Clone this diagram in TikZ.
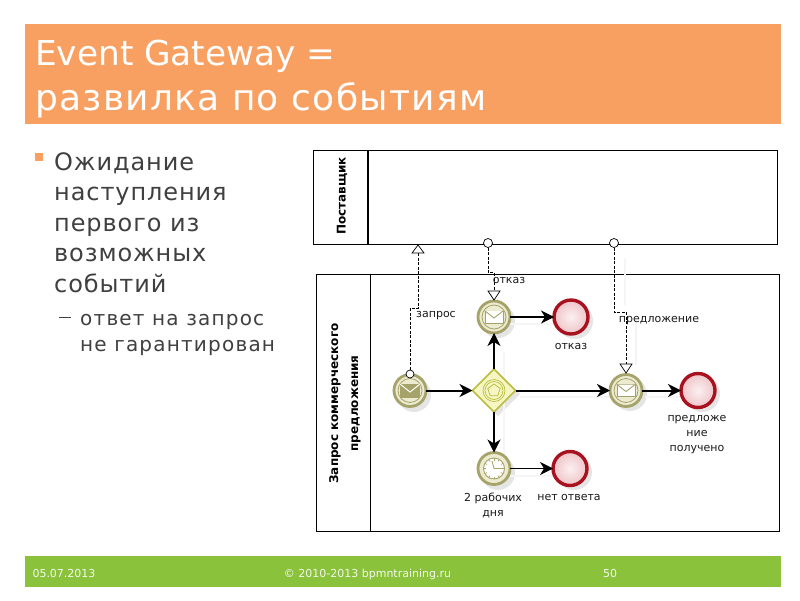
\documentclass[tikz,border=0pt]{standalone}
\usepackage{fontspec}
\setmainfont{DejaVu Sans}
\usetikzlibrary{arrows.meta,calc,shapes.geometric}
\definecolor{hdr}{HTML}{F8A062}
\definecolor{ftr}{HTML}{8AC23C}
\definecolor{txt}{HTML}{404040}
\definecolor{oli}{HTML}{A6A36A}
\definecolor{olil}{HTML}{ECEBD0}
\definecolor{gwb}{HTML}{B9BE3C}
\definecolor{gwf}{HTML}{F6F6C4}
\definecolor{endb}{HTML}{A8121E}
\definecolor{endf}{HTML}{EFC4C8}
\tikzset{
 x=1pt,y=-1pt,
 title/.style={anchor=base west,text=white,inner sep=0pt},
 body/.style={anchor=base west,text=txt,inner sep=0pt},
 foot/.style={anchor=base,text=white,font=\fontsize{11}{11}\selectfont,inner sep=0pt,opacity=.9},
 pool/.style={draw=black,line width=.9pt,fill=white},
 evt/.style={circle,draw=oli,line width=2.8pt,fill=olil,minimum size=32pt,inner sep=0pt,outer sep=0pt},
 endev/.style={circle,draw=endb,line width=3.4pt,shading=radial,inner color=white!75!endf,outer color=endf,minimum size=34pt,inner sep=0pt,outer sep=0pt},
 gw/.style={diamond,draw=gwb,line width=1.6pt,fill=gwf,minimum size=43pt,inner sep=0pt,outer sep=0pt},
 flow/.style={draw=black,line width=2pt,-{Stealth[length=13pt,width=13pt,inset=4pt]}},
 flowt/.style={draw=black,line width=1.2pt,-{Stealth[length=13pt,width=13pt,inset=4pt]}},
 msgf/.style={draw=black,line width=.9pt,dash pattern=on 3pt off 1.5pt},
 mcirc/.style={circle,draw=black,fill=white,line width=.7pt,inner sep=0pt},
 mhead/.style={draw=black,line width=.7pt,fill=white},
 lbl/.style={text=black!90,font=\fontsize{11}{15}\selectfont,align=center,inner sep=0pt},
 plbl/.style={rotate=90,font=\bfseries\fontsize{12}{20}\selectfont,inner sep=0pt,align=center},
 shad/.style={fill=black,opacity=.10},
 pics/env/.style={code={
   \draw[oli,line width=.9pt,fill=#1] (-9,-6) rectangle (9,6);
   \draw[line width=.9pt,draw=oli,fill=#1] (-9,-6) -- (0,1) -- (9,-6);
 }},
 pics/envfill/.style={code={
   \fill[oli] (-10,-6.5) rectangle (10,7);
   \draw[white,line width=1pt] (-10,-6.5) -- (0,1.5) -- (10,-6.5);
 }},
 pics/clock/.style={code={
   \draw[oli,line width=.9pt,fill=white] (0,0) circle (10.5);
   \foreach \a in {0,30,...,330}{\draw[oli,line width=.6pt] (\a:8) -- (\a:10.5);}
   \draw[oli,line width=.9pt] (0,0) -- (-2,-7.5) (0,0) -- (8,0);
 }},
 pics/gwin/.style={code={
   \draw[gwb,line width=.7pt] (0,0) circle (11);
   \draw[gwb,line width=.7pt] (0,0) circle (9);
   \draw[gwb,line width=.8pt] (90:-6.5) -- (162:-6.5) -- (234:-6.5) -- (306:-6.5) -- (18:-6.5) -- cycle;
 }},
}
\newfontfamily\ttlA{DejaVu Sans}
\newfontfamily\ttlB[LetterSpace=3.5]{DejaVu Sans}
\newfontfamily\bodyA[LetterSpace=3.8]{DejaVu Sans}
\newfontfamily\bodyB[LetterSpace=6]{DejaVu Sans}
\begin{document}
\begin{tikzpicture}
\useasboundingbox (0,0) rectangle (800,600);
\fill[white] (0,0) rectangle (800,600);
% header
\fill[hdr] (25,24) rectangle (781,124);
\node[title,font=\ttlA\fontsize{34.3}{36}\selectfont] (t1) at (35,65) {Event Gateway =};
\node[title,font=\ttlB\fontsize{36}{36}\selectfont] (t2) at (35,110) {развилка по событиям};
% bullets
\fill[hdr] (35,153) rectangle (43,161);
\begin{scope}[every node/.style={body,font=\bodyA\fontsize{24}{24}\selectfont}]
\node (b1) at (54,170) {Ожидание};
\node (b2) at (54,200.5) {наступления};
\node (b3) at (54,231) {первого из};
\node (b4) at (54,261.5) {возможных};
\node (b5) at (54,292) {событий};
\end{scope}
\fill[txt] (59,316.5) rectangle (71,317.6);
\begin{scope}[every node/.style={body,font=\bodyB\fontsize{20}{20}\selectfont}]
\node (s1) at (80,325) {ответ на запрос};
\node (s2) at (80,351.5) {не гарантирован};
\end{scope}
% footer
\fill[ftr] (25,556) rectangle (781,587);
\node[foot] (f1) at (64,577) {05.07.2013};
\node[foot] (f2) at (367.5,577) {© 2010-2013 bpmntraining.ru};
\node[foot] (f3) at (610,577) {50};
% pools
\draw[pool] (313,150) rectangle (777,244);
\draw[black,line width=1.6pt] (368,150) -- (368,244);
\draw[pool] (316,274) rectangle (779,531);
\draw[black,line width=.9pt] (370,274) -- (370,531);
\node[plbl] (p1) at (342,196) {Поставщик};
\node[plbl] (p2) at (345,403.5) {Запрос коммерческого\\предложения};
% shadows
\fill[shad] (414,395) circle (17);
\fill[shad] (498,321) circle (17);
\fill[shad] (575,321) circle (18);
\fill[shad] (630,394) circle (17);
\fill[shad] (702,394) circle (18);
\fill[shad] (498,473) circle (17);
\fill[shad] (574,472) circle (18);
\fill[shad] (498,372) -- (520,394) -- (498,416) -- (476,394) -- cycle;
% faint connector shadows
\draw[black!4,line width=1.2pt] (504,352) -- (504,472) (520,397) -- (610,397) (645,397) -- (682,397) (510,324) -- (555,324) (510,476) -- (555,476) (625,258) -- (625,305) (636,320) -- (636,365);
% nodes
\node[evt] (start) at (410,390.5) {};
\node[evt] (mref) at (494,317) {};
\node[gw] (gate) at (494,390.5) {};
\node[evt] (moff) at (626,390.5) {};
\node[evt] (tim) at (494,468.5) {};
\node[endev] (e1) at (571,317) {};
\node[endev] (e2) at (698,390.5) {};
\node[endev] (e3) at (570,468.5) {};
% icons
\draw[oli,line width=.8pt] (start) circle (12);
\draw[oli,line width=.8pt] (mref) circle (12);
\draw[oli,line width=.8pt] (moff) circle (12);
\pic at (start) {envfill};
\pic at (mref) {env=white};
\pic at (moff) {env=white};
\pic at (tim) {clock};
\pic at (gate) {gwin};
% sequence flows
\draw[flow] (start) -- (gate);
\draw[flow] (gate) -- (moff);
\draw[flow] (moff) -- (e2);
\draw[flowt] (gate) -- (mref);
\draw[flowt] (gate) -- (tim);
\draw[flowt] (mref) -- (e1);
\draw[flowt] (tim) -- (e3);
% message flows
\node[mcirc,minimum size=8pt] (o1) at (410,374) {};
\node[mcirc,minimum size=9pt] (o2) at (488,243) {};
\node[mcirc,minimum size=9pt] (o3) at (614,243) {};
\coordinate (h1) at (418,253);
\coordinate (h2) at (494,291);
\coordinate (h3) at (626,364);
\draw[msgf] (o1.north) -- (410,308.5) -- (418,308.5) -- (h1);
\draw[msgf] (o2.south) -- (488,272.5) -- (494,272.5) -- (h2);
\draw[msgf] (o3.south) -- (614,312) -- (626,312) -- (h3);
\draw[mhead] (412,253) -- (424,253) -- (418,245) -- cycle;
\draw[mhead] (488,291) -- (500,291) -- (494,300) -- cycle;
\draw[mhead] (620,364) -- (632,364) -- (626,373) -- cycle;
% labels
\node[lbl] (l1) at (436,316) {запрос};
\node[lbl] (l2) at (509,280) {отказ};
\node[lbl] (l3) at (659,320.5) {предложение};
\node[lbl] (l4) at (571,346) {отказ};
\node[lbl] (l5) at (697,434.5) {предложе\\ние\\получено};
\node[lbl] (l6) at (493,505.5) {2 рабочих\\дня};
\node[lbl] (l7) at (569,497) {нет ответа};
\end{tikzpicture}
\end{document}
